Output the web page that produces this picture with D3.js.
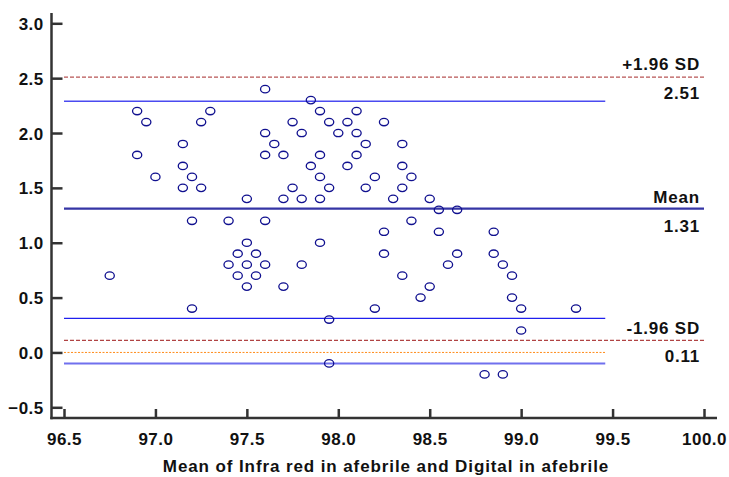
<!DOCTYPE html>
<html>
<head>
<meta charset="utf-8">
<script src="https://cdn.jsdelivr.net/npm/d3@7"></script>
<style>
  body { margin: 0; background: #fff; }
  text { font-family: "Liberation Sans", Arial, sans-serif; font-weight: bold; fill: #111; }
</style>
</head>
<body>
<svg id="chart" width="729" height="477"></svg>
<script>
// mean of the two thermometers (x) and their difference (y)
const meanVals = [
  96.9, 96.95, 97.3, 97.25, 97.15, 96.9, 97.15, 97.0, 97.2, 97.15, 97.25, 97.2, 97.4,
  97.6, 97.85, 97.9, 98.1, 97.75, 97.95, 98.05, 98.25, 97.6, 97.8, 98.0, 98.1,
  97.65, 98.15, 98.35, 97.6, 97.7, 97.9, 98.1, 97.85, 98.05, 98.35, 97.9, 98.2, 98.4,
  97.75, 97.95, 98.15, 98.35, 97.5, 97.7, 97.8, 97.9, 98.3, 98.5, 98.55, 98.65,
  97.6, 98.4, 98.25, 98.55, 98.85, 97.5, 97.9,
  96.75, 97.2, 97.45, 97.4, 97.5, 97.45, 97.5, 97.55, 97.6, 97.8, 97.55, 97.7,
  98.25, 98.65, 98.6, 98.85, 98.35, 98.5, 98.45, 98.2, 97.95, 97.95, 98.8,
  98.9, 98.95, 98.95, 99.0, 99.3, 99.0, 98.9
];
const diffVals = [
  2.2, 2.1, 2.2, 2.1, 1.9, 1.8, 1.7, 1.6, 1.6, 1.5, 1.5, 1.2, 1.2,
  2.4, 2.3, 2.2, 2.2, 2.1, 2.1, 2.1, 2.1, 2.0, 2.0, 2.0, 2.0,
  1.9, 1.9, 1.9, 1.8, 1.8, 1.8, 1.8, 1.7, 1.7, 1.7, 1.6, 1.6, 1.6,
  1.5, 1.5, 1.5, 1.5, 1.4, 1.4, 1.4, 1.4, 1.4, 1.4, 1.3, 1.3,
  1.2, 1.2, 1.1, 1.1, 1.1, 1.0, 1.0,
  0.7, 0.4, 0.9, 0.8, 0.8, 0.7, 0.6, 0.9, 0.8, 0.8, 0.7, 0.6,
  0.9, 0.9, 0.8, 0.9, 0.7, 0.6, 0.5, 0.4, 0.3, -0.1, -0.2,
  0.8, 0.7, 0.5, 0.4, 0.4, 0.2, -0.2
];

const meanDiff = 1.31;
const upperLoA = 2.51;
const lowerLoA = 0.11;
const ciLines = [2.29, 0.31, -0.1];  // confidence interval lines
const xTicks = [96.5, 97.0, 97.5, 98.0, 98.5, 99.0, 99.5, 100.0];
const yTicks = [-0.5, 0.0, 0.5, 1.0, 1.5, 2.0, 2.5, 3.0];
const xTitle = "Mean of Infra red in afebrile and Digital in afebrile";

const svg = d3.select("#chart");
const x = d3.scaleLinear().domain([96.5, 100]).range([64, 704]);
const y = d3.scaleLinear().domain([-0.5, 3]).range([407.3, 23.3]);
const x0 = 51.5, y0 = 418;
const lineEnd = 99.46;

// reference lines
function hline(v, x2, color, width, dash) {
  svg.append("line")
    .attr("x1", x(96.5)).attr("x2", x(x2))
    .attr("y1", y(v)).attr("y2", y(v))
    .attr("stroke", color).attr("stroke-width", width)
    .attr("stroke-dasharray", dash || null);
}
hline(0, lineEnd, "#ff8c1a", 1, "2,1.5");
hline(ciLines[0], lineEnd, "#4a4af0", 1.4);
hline(ciLines[1], lineEnd, "#2020ee", 1.2);
hline(ciLines[2], lineEnd, "#7070ee", 2);
hline(upperLoA, 100, "#b85555", 1.2, "4,2");
hline(lowerLoA, 100, "#b04444", 1.2, "4,2");
hline(meanDiff, 100, "#3535a5", 2.2);

// points
svg.append("g").selectAll("ellipse")
  .data(meanVals.map((m, i) => ({ m: m, d: diffVals[i] })))
  .enter().append("ellipse")
    .attr("cx", d => x(d.m))
    .attr("cy", d => y(d.d))
    .attr("rx", 4.6).attr("ry", 3.7)
    .attr("fill", "none")
    .attr("stroke", "#10108f")
    .attr("stroke-width", 1.3);

// labels at the right
function lab(txt, v, dy) {
  svg.append("text")
    .attr("x", 700).attr("y", y(v) + dy)
    .attr("text-anchor", "end")
    .attr("font-size", 17)
    .attr("letter-spacing", 0.8)
    .text(txt);
}
lab("+1.96 SD", upperLoA, -7);
lab(upperLoA.toFixed(2), upperLoA, 22);
lab("Mean", meanDiff, -6);
lab(meanDiff.toFixed(2), meanDiff, 23);
lab("-1.96 SD", lowerLoA, -6);
lab(lowerLoA.toFixed(2), lowerLoA, 22);

// axes
const axisColor = "#333";
const gy = svg.append("g").attr("transform", `translate(${x0},0)`)
  .call(d3.axisLeft(y).tickValues(yTicks).tickSize(-11).tickPadding(20).tickFormat(d3.format(".1f")));
gy.select(".domain").remove();
gy.selectAll(".tick line").attr("stroke", axisColor).attr("stroke-width", 2.5);
gy.selectAll(".tick text")
  .attr("font-size", 17).attr("letter-spacing", 0.4).attr("fill", "#111")
  .attr("font-family", null).attr("x", -8).attr("dy", "0.36em");

const gx = svg.append("g").attr("transform", `translate(0,${y0})`)
  .call(d3.axisBottom(x).tickValues(xTicks).tickSize(-9).tickFormat(d3.format(".1f")));
gx.select(".domain").remove();
gx.selectAll(".tick line").attr("stroke", axisColor).attr("stroke-width", 2.5);
gx.selectAll(".tick text")
  .attr("font-size", 17).attr("letter-spacing", 0.5).attr("fill", "#111")
  .attr("font-family", null).attr("y", 27).attr("dy", 0);

svg.append("line").attr("x1", x0).attr("x2", x0).attr("y1", 13).attr("y2", y0 + 1.2)
  .attr("stroke", axisColor).attr("stroke-width", 2.5);
svg.append("line").attr("x1", x0 - 1.2).attr("x2", 717).attr("y1", y0).attr("y2", y0)
  .attr("stroke", axisColor).attr("stroke-width", 2.5);

svg.append("text")
  .attr("x", 386).attr("y", 472)
  .attr("text-anchor", "middle")
  .attr("font-size", 17)
  .attr("letter-spacing", 0.9)
  .text(xTitle);
</script>
</body>
</html>
